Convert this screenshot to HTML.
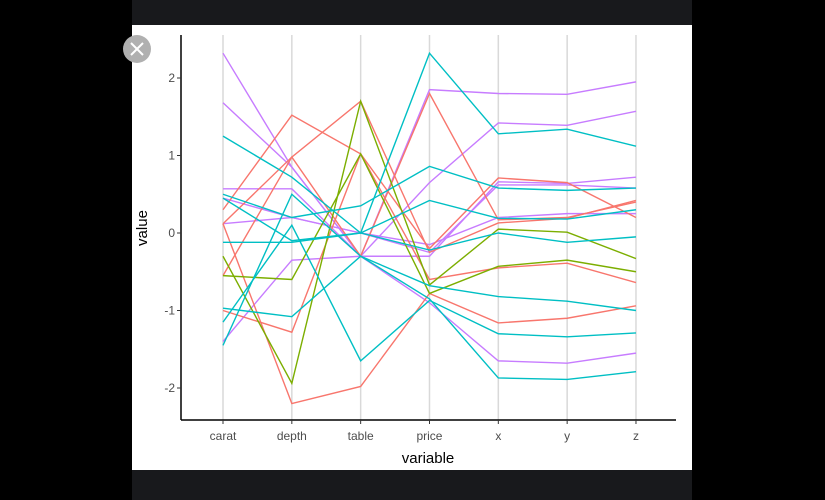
<!DOCTYPE html>
<html><head><meta charset="utf-8"><style>
body{margin:0;background:#000;}
svg{display:block;font-family:"Liberation Sans",sans-serif;}
</style></head><body>
<svg width="825" height="500">
<rect x="0" y="0" width="825" height="500" fill="#000"/>
<rect x="132" y="0" width="560" height="25" fill="#18191c"/>
<rect x="132" y="470" width="560" height="30" fill="#18191c"/>
<rect x="132" y="25" width="560" height="445" fill="#fff"/>
<g id="grid"></g>
<g id="lines"></g>
<line x1="181" y1="35" x2="181" y2="420" stroke="#000" stroke-width="1.5"/>
<line x1="181" y1="420" x2="676" y2="420" stroke="#000" stroke-width="1.5"/>
<g id="ticks"></g>
<text x="147" y="228" font-size="15" fill="#000" text-anchor="middle" transform="rotate(-90 147 228)">value</text>
<text x="428" y="463" font-size="15" fill="#000" text-anchor="middle">variable</text>
<g>
<circle cx="137" cy="49" r="14" fill="#b0b0b0"/>
<path d="M131 43 L143 55 M143 43 L131 55" stroke="#fff" stroke-width="2"/>
</g>
</svg>
<script>
const categories=["carat","depth","table","price","x","y","z"];
const yTicks=[2,1,0,-1,-2];
const seriesColors=["#C77CFF","#C77CFF","#C77CFF","#C77CFF","#C77CFF","#C77CFF","#F8766D","#F8766D","#F8766D","#F8766D","#F8766D","#7CAE00","#7CAE00","#00BFC4","#00BFC4","#00BFC4","#00BFC4","#00BFC4","#00BFC4","#00BFC4"];
const p1=[2.32,0.85,-0.3,0.65,1.42,1.39,1.57];
const p2=[1.68,0.85,-0.3,1.85,1.80,1.79,1.95];
const p3=[0.57,0.57,-0.3,-0.3,0.66,0.64,0.72];
const p4=[0.45,0.2,0.0,-0.25,0.62,0.62,0.58];
const p5=[0.12,0.2,0.0,-0.15,0.2,0.25,0.25];
const p6=[-1.4,-0.35,-0.3,-0.9,-1.65,-1.68,-1.55];
const r1=[0.12,0.98,-0.3,1.8,0.17,0.2,0.4];
const r2=[0.3,1.52,1.02,-0.2,0.71,0.65,0.2];
const r3=[-0.55,0.98,1.7,-0.25,0.13,0.19,0.42];
const r4=[-1.0,-1.28,1.02,-0.6,-0.45,-0.39,-0.64];
const r5=[0.12,-2.2,-1.98,-0.78,-1.16,-1.1,-0.94];
const g1=[-0.3,-1.94,1.7,-0.67,0.05,0.01,-0.33];
const g2=[-0.55,-0.6,1.02,-0.78,-0.43,-0.35,-0.5];
const c1=[1.25,0.72,0.0,2.32,1.28,1.34,1.12];
const c2=[0.5,0.2,0.35,0.86,0.58,0.55,0.58];
const c3=[0.45,-0.1,0.0,0.42,0.19,0.18,0.30];
const c4=[-0.12,-0.12,0.0,-0.22,0.0,-0.12,-0.05];
const c5=[-0.97,-1.08,-0.3,-0.68,-0.82,-0.88,-1.0];
const c6=[-1.15,0.1,-1.65,-0.87,-1.3,-1.34,-1.29];
const c7=[-1.45,0.5,-0.3,-0.85,-1.87,-1.89,-1.79];
const allSeries=[p1,p2,p3,p4,p5,p6,r1,r2,r3,r4,r5,g1,g2,c1,c2,c3,c4,c5,c6,c7];
const NS="http://www.w3.org/2000/svg";
function xs(i){return 223+i*68.83;}
function ys(v){return 233-77.5*v;}
const grid=document.getElementById('grid'),lines=document.getElementById('lines'),ticks=document.getElementById('ticks');
categories.forEach((c,i)=>{
 const l=document.createElementNS(NS,'line');
 l.setAttribute('x1',xs(i));l.setAttribute('x2',xs(i));l.setAttribute('y1',35);l.setAttribute('y2',420);
 l.setAttribute('stroke','#d9d9d9');l.setAttribute('stroke-width','1.5');
 
 
 grid.appendChild(l);
 const t=document.createElementNS(NS,'text');
 t.setAttribute('x',xs(i));t.setAttribute('y',440);t.setAttribute('font-size','12');t.setAttribute('fill','#4d4d4d');t.setAttribute('text-anchor','middle');
 t.textContent=c;
 
 
 ticks.appendChild(t);
 const tk=document.createElementNS(NS,'line');
 tk.setAttribute('x1',xs(i));tk.setAttribute('x2',xs(i));tk.setAttribute('y1',420);tk.setAttribute('y2',424);tk.setAttribute('stroke','#333');
 
 
 ticks.appendChild(tk);
});
yTicks.forEach(v=>{
 const t=document.createElementNS(NS,'text');
 t.setAttribute('x',175);t.setAttribute('y',ys(v)+4);t.setAttribute('font-size','12');t.setAttribute('fill','#4d4d4d');t.setAttribute('text-anchor','end');
 t.textContent=String(v);
 
 
 ticks.appendChild(t);
 const tk=document.createElementNS(NS,'line');
 tk.setAttribute('x1',177);tk.setAttribute('x2',181);tk.setAttribute('y1',ys(v));tk.setAttribute('y2',ys(v));tk.setAttribute('stroke','#333');
 
 
 ticks.appendChild(tk);
});
allSeries.forEach((s,k)=>{
 const p=document.createElementNS(NS,'polyline');
 p.setAttribute('points',s.map((v,i)=>xs(i)+','+ys(v)).join(' '));
 p.setAttribute('fill','none');p.setAttribute('stroke',seriesColors[k]);p.setAttribute('stroke-width','1.4');
 
 
 lines.appendChild(p);
});
</script>
</body></html>
